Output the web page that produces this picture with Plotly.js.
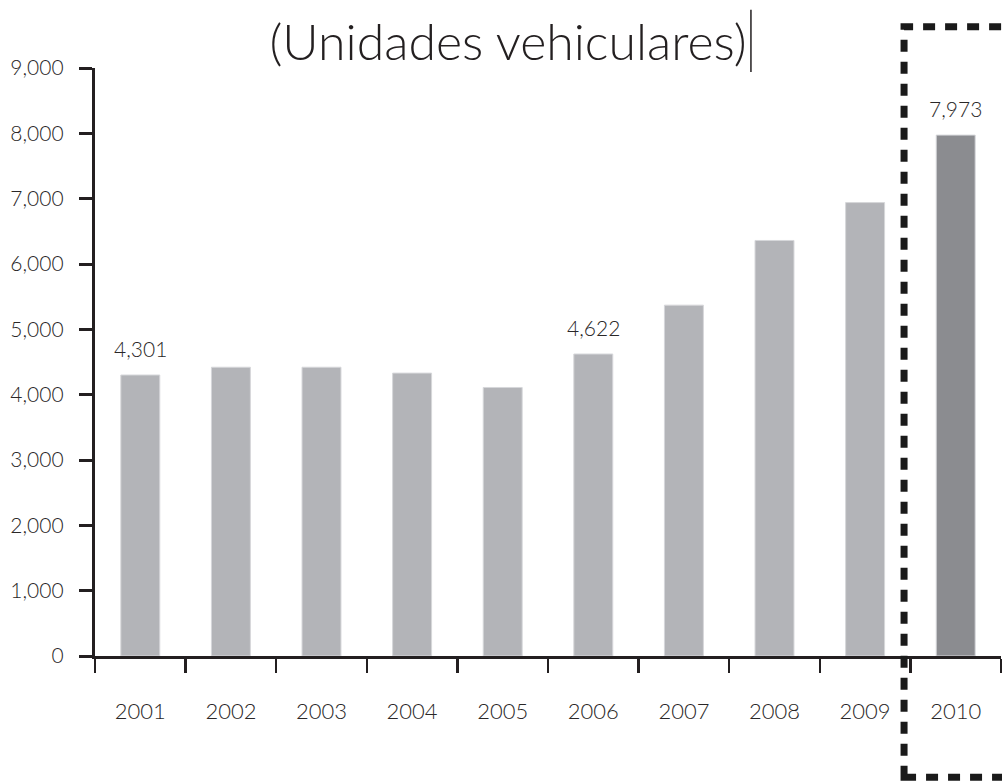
<!DOCTYPE html>
<html>
<head>
<meta charset="utf-8">
<script src="https://cdn.plot.ly/plotly-3.0.1.min.js"></script>
<style>html,body{margin:0;padding:0;background:#fff;}#chart{width:1002px;height:781px;}</style>
</head>
<body>
<div id="chart"></div>
<script>
const years = ['2001','2002','2003','2004','2005','2006','2007','2008','2009','2010'];
const units = [4301, 4420, 4420, 4330, 4110, 4622, 5370, 6360, 6940, 7973];
const labeledYears = ['2001','2006','2010'];
const highlightYear = '2010';
const yTickVals = [0,1000,2000,3000,4000,5000,6000,7000,8000,9000];
const titleText = '(Unidades vehiculares)';

const FONT = 'Lato, "Open Sans", sans-serif';
const TXT = '#2a2727';
const colors = years.map(y => y === highlightYear ? '#8b8c90' : '#b3b4b8');

const trace = {
  type: 'bar',
  x: years,
  y: units,
  marker: {color: colors, line: {color: '#d6d7da', width: 1}},
  hoverinfo: 'x+y'
};

// category axis positions are indices; use index of the year for annotations
const annotations = years.map((y,i) => labeledYears.includes(y) ? {
  x: i, y: units[i], xref: 'x', yref: 'y',
  text: units[i].toLocaleString('en-US'),
  showarrow: false, yanchor: 'bottom', yshift: 12,
  font: {family: FONT, size: 21, color: TXT, weight: 300}
} : null).filter(a => a);

const layout = {
  width: 1002, height: 781,
  margin: {l: 95, r: 1, t: 68, b: 125},
  paper_bgcolor: '#fff', plot_bgcolor: '#fff',
  showlegend: false,
  bargap: 0.57,
  title: {
    text: titleText,
    font: {family: FONT, size: 50, color: '#231f20', weight: 300},
    xref: 'container', x: 0.507, xanchor: 'center',
    yref: 'container', y: 0.945, yanchor: 'middle'
  },
  xaxis: {
    type: 'category',
    range: [-0.5, years.length - 0.5],
    showgrid: false, zeroline: false,
    showline: true, linecolor: '#231f20', linewidth: 2.5,
    ticks: 'outside', tickson: 'boundaries', ticklen: 14, tickwidth: 2.5, tickcolor: '#231f20',
    ticklabelstandoff: 34,
    tickfont: {family: FONT, size: 22, color: TXT, weight: 300}
  },
  yaxis: {
    range: [0, 9000],
    tickvals: yTickVals,
    ticktext: yTickVals.map(v => v.toLocaleString('en-US')),
    showgrid: false, zeroline: false,
    showline: true, linecolor: '#231f20', linewidth: 3.2,
    ticks: 'outside', ticklen: 13, tickwidth: 3, tickcolor: '#231f20',
    ticklabelstandoff: 11,
    tickfont: {family: FONT, size: 21, color: TXT, weight: 300}
  },
  annotations: annotations,
  shapes: [
    {type: 'line', xref: 'paper', yref: 'paper', x0: 0.724, x1: 0.724, y0: 0.993, y1: 1.099,
     line: {color: '#231f20', width: 1.5}},
    {type: 'rect', xref: 'paper', yref: 'paper', x0: 0.893, x1: 1.006, y0: -0.206, y1: 1.07,
     line: {color: '#1a1a1a', width: 7, dash: '12px,10px'}, fillcolor: 'rgba(0,0,0,0)', layer: 'above'}
  ]
};

Plotly.newPlot('chart', [trace], layout, {displayModeBar: false, staticPlot: true});
</script>
</body>
</html>
